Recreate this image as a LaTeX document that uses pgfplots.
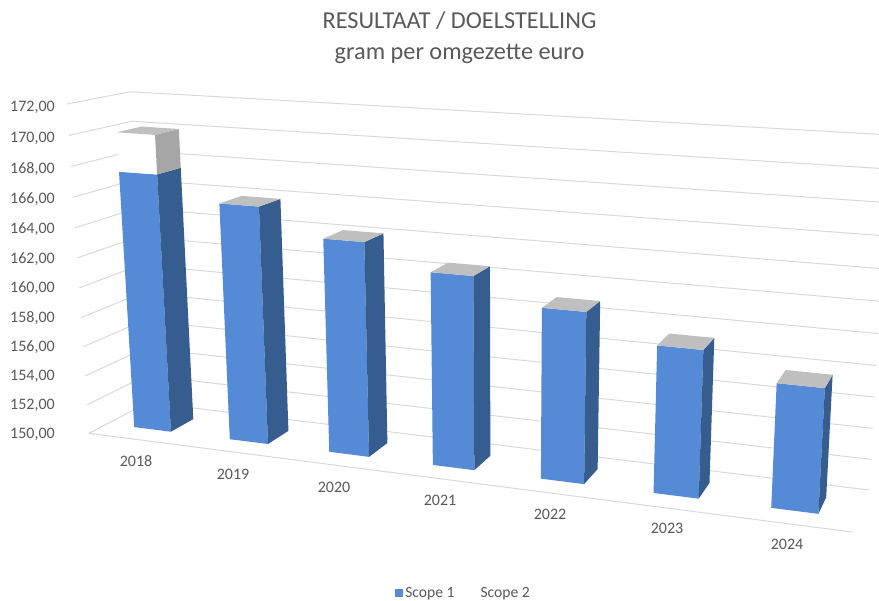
\documentclass[border=0pt]{standalone}
\usepackage{fontspec}
\setmainfont{Carlito}
\usepackage{pgfplots}
\pgfplotsset{compat=1.18}
\definecolor{txt}{HTML}{595959}
\definecolor{gridc}{HTML}{D9D9D9}
\definecolor{s1front}{HTML}{558BD6}
\definecolor{s1side}{HTML}{355D8F}
\definecolor{s2side}{HTML}{A6A6A6}
\definecolor{s2top}{HTML}{BFBFBF}
% projection of the 3D chart box (X along the years, Y in depth, V the value) onto the page
\newcommand\W[3]{(1-0.1385*#1+0.0615*#2-0.0503*(#3-150)/22)}
\newcommand\Ux[3]{((644.98*#1+68.1*#2-25.37*(#3-150)/22+89)/\W{#1}{#2}{#3})}
\newcommand\Uy[3]{((25.02*#1-6.05*#2-334.5*(#3-150)/22+433.3)/\W{#1}{#2}{#3})}
\newcommand\XB{(0.0689+0.14302*\thisrow{I}+0.0278*\thisrow{S})}
\pgfplotsset{
  /pgfplots/table/gridproj/.style={row sep=\\,
    x expr={\Ux{\thisrow{X}}{\thisrow{Y}}{\thisrow{V}}},
    y expr={\Uy{\thisrow{X}}{\thisrow{Y}}{\thisrow{V}}}},
  /pgfplots/table/barproj/.style={row sep=\\,
    x expr={\Ux{\XB}{\thisrow{Y}}{\thisrow{V}}},
    y expr={\Uy{\XB}{\thisrow{Y}}{\thisrow{V}}}},
  face/.style={fill=#1,draw=none,forget plot,no markers}
}
\newcommand\segment[5]{%
  \addplot[face=#4] table[barproj] {I S Y V\\ #1 -1 0.3 #2\\ #1 1 0.3 #2\\ #1 1 0.3 #3\\ #1 -1 0.3 #3\\ #1 -1 0.3 #2\\};
  \addplot[face=#5] table[barproj] {I S Y V\\ #1 1 0.3 #2\\ #1 1 0.7 #2\\ #1 1 0.7 #3\\ #1 1 0.3 #3\\ #1 1 0.3 #2\\};
}
\newcommand\barcap[2]{%
  \addplot[face=s2top] table[barproj] {I S Y V\\ #1 -1 0.3 #2\\ #1 1 0.3 #2\\ #1 1 0.7 #2\\ #1 -1 0.7 #2\\ #1 -1 0.3 #2\\};
}
\tikzset{tl/.style={text=txt,font=\fontsize{16}{17}\selectfont,anchor=base},
         ttl/.style={text=txt,font=\fontsize{24.3}{26}\selectfont,anchor=base}}
\begin{document}
\begin{tikzpicture}
\begin{axis}[
  scale only axis, width=879pt, height=600pt,
  xmin=0, xmax=879, ymin=0, ymax=600, y dir=reverse,
  axis lines=none, clip=true,
  legend columns=2,
  legend style={at={(axis cs:463.5,593)},anchor=center,draw=none,fill=none,
    font=\fontsize{15.6}{16}\selectfont\color{txt},inner sep=0pt,
    /tikz/every even column/.style={column sep=14pt}},
  legend image code/.code={\fill[#1,draw=none] (0pt,-4pt) rectangle (8pt,4pt);},
]
% page frame (keeps the whole 879x600 page in the picture)
\addplot[white,line width=0.1pt,forget plot,no markers] coordinates {(0,0) (879,0) (879,600) (0,600) (0,0)};
% gridlines
\pgfplotsinvokeforeach{150,152,...,172}{
  \addplot[gridc,line width=1pt,forget plot,no markers] table[gridproj] {X Y V\\ 0 0 #1\\ 0 1 #1\\ 1 1 #1\\};
}
\addplot[gridc,line width=1pt,forget plot,no markers] table[gridproj] {X Y V\\ 0 0 150\\ 1 0 150\\};
% bars: Scope 1
\segment{0}{150}{167.46}{s1front}{s1side}
\segment{1}{150}{165.88}{s1front}{s1side}
\segment{2}{150}{164.15}{s1front}{s1side}
\segment{3}{150}{162.60}{s1front}{s1side}
\segment{4}{150}{161.00}{s1front}{s1side}
\segment{5}{150}{159.35}{s1front}{s1side}
\segment{6}{150}{157.78}{s1front}{s1side}
% Scope 2 (only 2018 has height)
\segment{0}{167.46}{170.03}{white}{s2side}
\barcap{0}{170.03}
\barcap{1}{165.88}
\barcap{2}{164.15}
\barcap{3}{162.60}
\barcap{4}{161.00}
\barcap{5}{159.35}
\barcap{6}{157.78}
% legend
\addlegendimage{fill=s1front}
\addlegendentry{Scope 1}
\addlegendimage{fill=white}
\addlegendentry{Scope 2}
% titles
\node[ttl] at (axis cs:459.5,28) {RESULTAAT / DOELSTELLING};
\node[ttl] at (axis cs:459.5,59) {gram per omgezette euro};
% value labels
\node[tl] at (axis cs:32.5,111.5) {172,00};
\node[tl] at (axis cs:32.5,142) {170,00};
\node[tl] at (axis cs:32.5,173) {168,00};
\node[tl] at (axis cs:32.5,203.5) {166,00};
\node[tl] at (axis cs:32.5,233.5) {164,00};
\node[tl] at (axis cs:32.5,263.5) {162,00};
\node[tl] at (axis cs:32.5,292.5) {160,00};
\node[tl] at (axis cs:32.5,322.5) {158,00};
\node[tl] at (axis cs:32.5,351.5) {156,00};
\node[tl] at (axis cs:32.5,380.5) {154,00};
\node[tl] at (axis cs:32.5,409.5) {152,00};
\node[tl] at (axis cs:32.5,438.5) {150,00};
% category labels
\node[tl] at (axis cs:136,466) {2018};
\node[tl] at (axis cs:233,479) {2019};
\node[tl] at (axis cs:334,492) {2020};
\node[tl] at (axis cs:440,505) {2021};
\node[tl] at (axis cs:550,519) {2022};
\node[tl] at (axis cs:667,533) {2023};
\node[tl] at (axis cs:787,549) {2024};
\end{axis}
\end{tikzpicture}
\end{document}
